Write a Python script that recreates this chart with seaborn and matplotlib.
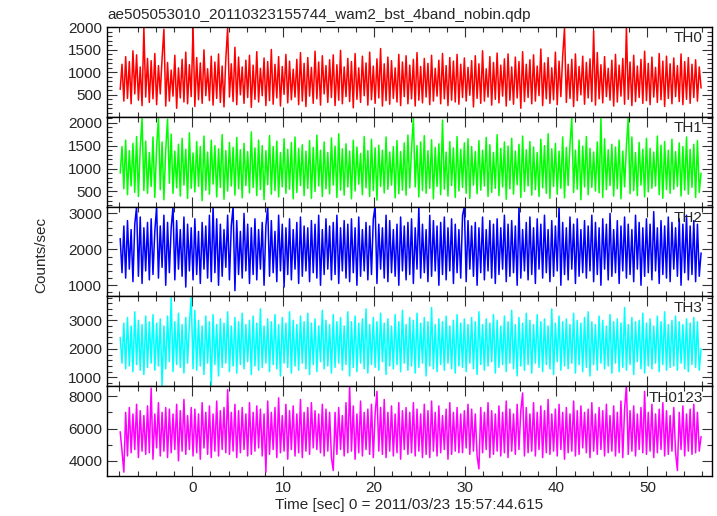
"""Кривые блеска WAM (4 полосы + сумма)"""

import numpy as np
import matplotlib
matplotlib.use("Agg")
import matplotlib.pyplot as plt
import seaborn as sns
from matplotlib.ticker import MultipleLocator

title = "ae505053010_20110323155744_wam2_bst_4band_nobin.qdp"
band_names = ["TH0", "TH1", "TH2", "TH3", "TH0123"]
band_colors = ["#ff0000", "#00ff00", "#0000ff", "#00ffff", "#ff00ff"]

# начало и конец ряда, сек
t_start, t_stop = -7.9, 55.9

th0 = [
    620, 1180, 360, 1350, 420, 1240, 300, 1480, 520, 1390, 380, 1120, 260, 2000, 450, 1310,
    330, 1260, 410, 1420, 280, 1150, 520, 1310, 1960, 250, 1220, 360, 1050, 470, 1380, 200,
    1100, 430, 1290, 340, 1450, 300, 1170, 460, 2000, 240, 1330, 390, 1210, 310, 1500, 480,
    1080, 370, 1360, 270, 1230, 420, 1410, 330, 1140, 230, 1300, 1990, 450, 1190, 350, 1560,
    280, 1340, 500, 1120, 310, 1270, 440, 1380, 220, 1160, 400, 1460, 340, 1090, 480, 1320,
    260, 1240, 370, 1510, 290, 1180, 430, 1350, 250, 1130, 510, 1400, 320, 1250, 390, 1070,
    450, 1290, 280, 1440, 360, 1200, 240, 1330, 470, 1110, 310, 1470, 410, 1230, 270, 1370,
    520, 1150, 330, 1280, 440, 1390, 260, 1170, 380, 1490, 300, 1120, 460, 1310, 350, 1240,
    210, 1420, 400, 1100, 330, 1360, 480, 1210, 270, 1450, 390, 1140, 310, 1300, 430, 1530,
    250, 1190, 370, 1340, 290, 1260, 420, 1100, 340, 1400, 260, 1230, 460, 1370, 300, 1160,
    410, 1290, 250, 1440, 380, 1130, 320, 1310, 450, 1200, 280, 1380, 360, 1090, 470, 1270,
    300, 1420, 410, 1150, 260, 1330, 380, 1250, 340, 1400, 290, 1180, 440, 1320, 360, 1110,
    490, 1260, 230, 1370, 420, 1190, 310, 1480, 360, 1080, 450, 1350, 270, 1220, 400, 1430,
    320, 1160, 470, 1300, 250, 1410, 380, 1120, 290, 1340, 430, 1240, 200, 1460, 350, 1180,
    440, 1280, 300, 1390, 360, 1140, 480, 1520, 260, 1210, 410, 1330, 310, 1100, 390, 1450,
    280, 1250, 460, 1370, 1980, 330, 1180, 420, 1290, 240, 1410, 370, 1130, 500, 1360, 290,
    1220, 430, 1300, 350, 1920, 270, 1440, 410, 1170, 320, 1350, 460, 1090, 380, 1270, 250,
    1400, 340, 1160, 470, 1310, 290, 2000, 400, 1230, 260, 1380, 350, 1140, 440, 1290, 310,
    1470, 370, 1200, 280, 1340, 450, 1110, 330, 1420, 390, 1250, 240, 1360, 420, 1190, 300,
    1320, 460, 1150, 350, 1410, 280, 1240, 400, 1330, 310, 1180, 440, 1280, 360, 1120, 650,
]
th1 = [
    900, 1480, 560, 1620, 430, 1390, 620, 1550, 480, 1700, 390, 1440, 2100, 520, 1600, 460,
    1350, 610, 1690, 370, 1470, 2100, 540, 1580, 320, 1410, 2080, 680, 1750, 460, 1380, 580,
    1530, 400, 1660, 640, 1420, 350, 1780, 570, 1340, 490, 1590, 610, 1480, 300, 1710, 530,
    1360, 440, 1620, 660, 1500, 380, 1430, 590, 1740, 330, 1390, 510, 1570, 620, 1460, 420,
    1680, 560, 1410, 360, 1550, 630, 1370, 470, 1800, 590, 1450, 410, 1620, 540, 1500, 320,
    1390, 650, 1720, 440, 1480, 520, 1600, 380, 1350, 600, 1650, 460, 1420, 550, 1570, 340,
    1690, 480, 1440, 630, 1520, 410, 1380, 570, 1610, 350, 1460, 500, 1730, 620, 1400, 390,
    1580, 560, 1350, 450, 1670, 640, 1490, 370, 1760, 530, 1430, 420, 1540, 600, 1380, 340,
    1620, 510, 1470, 660, 1330, 430, 1700, 580, 1390, 390, 1640, 520, 1450, 310, 1510, 610,
    1400, 470, 1690, 550, 1360, 640, 1480, 360, 1610, 450, 1370, 530, 1560, 420, 1730, 580,
    1440, 2100, 600, 1500, 380, 1580, 520, 1720, 460, 1390, 570, 1630, 340, 1460, 610, 1540,
    430, 2060, 550, 1360, 400, 1590, 630, 1450, 370, 1700, 510, 1420, 590, 1560, 460, 1650,
    350, 1480, 640, 1370, 450, 1610, 530, 1400, 620, 1680, 390, 1520, 480, 1350, 570, 1740,
    410, 1440, 600, 1580, 330, 1490, 560, 1660, 440, 1380, 650, 1530, 370, 1710, 500, 1410,
    620, 1590, 420, 1470, 540, 1350, 390, 1640, 580, 1500, 460, 1760, 350, 1430, 610, 1550,
    440, 1380, 570, 1690, 360, 1460, 630, 1520, 2100, 480, 1400, 550, 1620, 320, 1490, 600,
    1700, 430, 1440, 590, 1360, 510, 1580, 470, 2090, 370, 1650, 540, 1410, 630, 1530, 400,
    1470, 560, 1620, 340, 1380, 600, 1500, 2100, 450, 1690, 520, 1350, 410, 1570, 640, 1420,
    380, 1660, 490, 1440, 570, 1360, 620, 1710, 430, 1510, 350, 1590, 540, 1400, 460, 1640,
    550, 1370, 610, 1560, 400, 1480, 530, 1690, 440, 1420, 590, 1530, 370, 1610, 480, 900,
]
th2 = [
    2300, 1350, 2650, 1200, 2800, 1450, 2550, 1100, 2700, 3190, 1250, 2900, 1050, 2600, 1400, 2750,
    1150, 2850, 1300, 2500, 3190, 1200, 2650, 1500, 2950, 1000, 2750, 1350, 2600, 3190, 1150, 2800,
    1450, 2550, 1250, 2900, 950, 2700, 1400, 2600, 1150, 2850, 1300, 2500, 1050, 2750, 1450, 2650,
    1200, 2950, 1100, 3190, 1350, 2850, 1000, 2700, 1250, 2550, 1500, 2950, 1150, 2650, 3190, 850,
    2800, 1300, 2500, 1200, 3000, 1400, 2700, 1050, 2600, 1300, 2850, 1150, 2550, 1450, 2750, 1000,
    2650, 3190, 1250, 2800, 1350, 2500, 1100, 2950, 1400, 2700, 950, 2600, 1300, 2850, 1150, 2550,
    1450, 2750, 1050, 2900, 1250, 2650, 1400, 2600, 1100, 2800, 1350, 2700, 1200, 2950, 1000, 2550,
    1300, 2850, 1450, 2650, 1150, 2750, 1300, 2950, 1050, 2600, 1400, 2800, 1200, 2700, 1100, 2850,
    1350, 2600, 1000, 2900, 1250, 2550, 1400, 2750, 1150, 2650, 1300, 2850, 3190, 1050, 2700, 1450,
    2600, 1200, 2950, 1100, 2800, 1350, 2550, 1250, 2700, 1000, 2900, 1400, 2650, 1150, 2750, 1300,
    2850, 1050, 2600, 1450, 3190, 1200, 2700, 1350, 2550, 1100, 2950, 1250, 2800, 1400, 2650, 1000,
    2750, 1300, 2900, 1150, 2600, 1400, 2850, 1050, 2700, 1350, 2550, 1200, 2950, 3190, 1100, 2800,
    1450, 2650, 1250, 2750, 1000, 2600, 1350, 2900, 1150, 2550, 1400, 2800, 1200, 2700, 1050, 2850,
    1300, 2600, 1450, 2950, 1100, 2700, 1250, 2800, 1350, 2650, 1000, 3190, 1200, 2550, 1400, 2750,
    1150, 2900, 1300, 2600, 1050, 2850, 1450, 2700, 1200, 2950, 1350, 2550, 1100, 2800, 1250, 2650,
    1400, 3190, 1000, 2750, 1300, 2600, 1150, 2900, 1450, 2700, 1050, 2850, 1250, 2550, 1350, 2800,
    1200, 2650, 1400, 2950, 1100, 2750, 1300, 2600, 1000, 2850, 1450, 2700, 1150, 3000, 1250, 2550,
    1350, 2800, 1050, 2650, 1400, 2900, 1200, 2700, 1300, 2550, 1100, 2950, 1450, 2750, 1000, 2600,
    1250, 2850, 1350, 2700, 1150, 3050, 1400, 2600, 1050, 2800, 1300, 2650, 1200, 2900, 1100, 2750,
    1450, 2600, 1250, 2850, 1000, 2700, 1350, 2950, 1150, 2650, 1300, 2800, 1100, 2700, 1250, 1900,
]
th3 = [
    2400, 1500, 2900, 1300, 3100, 1400, 2800, 1200, 3300, 1450, 3000, 1250, 2850, 1100, 3150, 1350,
    2950, 1500, 3200, 1250, 2900, 1400, 3050, 700, 2800, 1300, 3150, 1550, 3800, 1200, 2950, 1450,
    3250, 1350, 2850, 1150, 3100, 1500, 2900, 3800, 1300, 3350, 1250, 3000, 1400, 2800, 1100, 3150,
    1500, 2950, 700, 3200, 1450, 2850, 1050, 3050, 1350, 2900, 1500, 3300, 1200, 2800, 1400, 3100,
    1150, 2950, 1450, 3250, 1300, 2850, 1550, 3000, 1100, 3150, 1400, 2900, 1250, 3400, 1350, 2800,
    1500, 3050, 1200, 2950, 1450, 3200, 1300, 2850, 1050, 3100, 1500, 2900, 1350, 3300, 1150, 3000,
    1400, 2850, 1250, 3150, 1500, 2950, 1300, 3250, 1100, 2900, 1450, 3050, 1200, 2800, 1550, 3350,
    1300, 3000, 1400, 2850, 1150, 3200, 1350, 2950, 1500, 3100, 1250, 2800, 1450, 3300, 1050, 2950,
    1350, 3150, 1200, 2900, 1500, 3050, 1300, 3400, 1150, 2850, 1450, 3100, 1350, 2950, 1250, 3250,
    1550, 2900, 1100, 3050, 1400, 2800, 1300, 3200, 1450, 2950, 1200, 3350, 1500, 2850, 1250, 3100,
    1400, 3000, 1150, 3250, 1350, 2900, 1500, 3100, 1050, 2950, 1400, 3450, 1300, 2850, 1200, 3050,
    1450, 2950, 1250, 3150, 1500, 2800, 1300, 3000, 1150, 3200, 1400, 2900, 1350, 3050, 1200, 2850,
    1500, 3100, 1300, 2950, 1100, 3300, 1450, 2850, 1250, 3050, 1400, 2900, 1550, 3200, 1150, 3000,
    1350, 2800, 1450, 3150, 1200, 2950, 1500, 3350, 1300, 2850, 1050, 3100, 1400, 2900, 1250, 3250,
    1450, 3000, 1150, 2850, 1500, 3200, 1350, 2950, 1200, 3050, 1450, 2800, 1300, 3400, 1100, 2900,
    1550, 3150, 1250, 2950, 1400, 3050, 1300, 2850, 1500, 3250, 1150, 3000, 1450, 2900, 1200, 3100,
    1350, 3300, 1050, 2950, 1450, 2850, 1250, 3150, 1500, 3000, 1300, 2800, 1400, 3200, 1150, 2950,
    1500, 3050, 1200, 2900, 1350, 3450, 1250, 2850, 1450, 3100, 1100, 2950, 1550, 3000, 1300, 3250,
    1150, 2900, 1400, 3050, 1300, 2800, 1500, 3150, 1200, 2950, 1450, 3300, 1250, 2850, 1350, 3000,
    1400, 3150, 1250, 2950, 1500, 2850, 1300, 3050, 1200, 2900, 1450, 3100, 1350, 2950, 1250, 2000,
]
th0123 = [
    5800, 4600, 3300, 7000, 4300, 7300, 4500, 6900, 4700, 7500, 4200, 7100, 4600, 6800, 4400, 7400,
    4500, 8500, 4100, 6900, 4800, 7600, 4300, 7000, 4600, 7300, 4200, 7200, 4500, 6900, 4700, 7500,
    4000, 7100, 4600, 7800, 4400, 6800, 4700, 7300, 4300, 7200, 4500, 6900, 4100, 7600, 4800, 7000,
    4400, 7400, 4200, 6900, 4600, 7700, 4300, 7100, 4700, 7300, 4500, 8400, 4400, 7000, 4600, 7500,
    4200, 7100, 4500, 7300, 4700, 6900, 4300, 7600, 4400, 7000, 4600, 7400, 4800, 7200, 4300, 6900,
    3300, 7700, 4400, 7000, 4700, 7300, 4200, 7900, 4500, 6800, 4600, 7500, 4100, 7100, 4700, 7400,
    4300, 6900, 4500, 7800, 4200, 7000, 4600, 7300, 4400, 7600, 4800, 7100, 4700, 6900, 4500, 7500,
    4300, 7200, 4600, 7000, 4200, 3400, 7000, 4400, 7300, 4700, 6800, 4300, 7600, 4500, 8600, 4600,
    7400, 4100, 6900, 4500, 7700, 4300, 7000, 4700, 7200, 4400, 7500, 4200, 6900, 8300, 4600, 7300,
    4400, 7800, 4200, 7000, 4600, 7400, 4300, 6900, 4500, 7600, 4100, 7100, 4700, 7300, 4400, 7000,
    4500, 7600, 4300, 7200, 4600, 6900, 4200, 7500, 4400, 7100, 4200, 7700, 4600, 7000, 4300, 7400,
    4500, 6800, 4700, 7200, 4100, 7600, 4400, 7000, 4600, 7300, 4500, 6900, 4500, 7100, 4800, 7500,
    4400, 7200, 4600, 6900, 4300, 3500, 7300, 4500, 7000, 4700, 7600, 4200, 7100, 4400, 6900, 4600,
    7400, 4300, 7000, 4500, 7700, 4200, 7200, 4600, 6900, 4400, 7500, 4700, 7100, 8200, 4300, 7300,
    4500, 6900, 4600, 7600, 4300, 7000, 4700, 7400, 4200, 7100, 4500, 7800, 4400, 6900, 4600, 7200,
    4300, 7500, 4700, 7000, 4100, 7300, 4500, 6900, 4600, 7700, 4300, 7100, 4400, 7400, 4800, 7000,
    4500, 7200, 4200, 7600, 4600, 6900, 4400, 7300, 4700, 7100, 4300, 7500, 4500, 6800, 4600, 7400,
    4300, 7000, 4500, 7700, 4200, 7200, 8700, 4400, 7100, 4600, 7400, 4300, 6900, 4700, 7300, 4500,
    8300, 4400, 7000, 4600, 7500, 4200, 6900, 4500, 7200, 4700, 7600, 4300, 7100, 4400, 6800, 4600,
    7300, 4500, 3400, 7000, 4700, 7400, 4300, 6900, 4600, 7200, 4400, 7500, 4500, 7000, 4600, 5500,
]

# пределы и шаги делений по оси Y для каждой панели
y_limits = [(10, 2010), (170, 2130), (690, 3190), (690, 3840), (3060, 8620)]
y_major = [500, 500, 1000, 1000, 2000]
y_minor = [100, 100, 200, 200, 1000]

sns.set_style("ticks")
plt.rcParams["font.family"] = ["Liberation Sans", "DejaVu Sans"]
plt.rcParams["xtick.direction"] = "in"
plt.rcParams["ytick.direction"] = "in"

W, H = 717, 516
fig, axes = plt.subplots(5, 1, figsize=(W / 100, H / 100), dpi=100, sharex=True)
fig.subplots_adjust(left=107 / W, right=712 / W, top=1 - 27 / H, bottom=1 - 476 / H, hspace=0)

series = [th0, th1, th2, th3, th0123]
for i, ax in enumerate(axes):
    vals = np.array(series[i])
    t = np.linspace(t_start, t_stop, len(vals))
    sns.lineplot(x=t, y=vals, ax=ax, color=band_colors[i], linewidth=1.1, estimator=None)
    ax.set_ylim(*y_limits[i])
    ax.set_xlim(-9.35, 57.1)
    ax.yaxis.set_major_locator(MultipleLocator(y_major[i]))
    ax.yaxis.set_minor_locator(MultipleLocator(y_minor[i]))
    ax.xaxis.set_major_locator(MultipleLocator(10))
    ax.xaxis.set_minor_locator(MultipleLocator(2))
    ax.tick_params(which="both", top=True, right=True, direction="in", color="#333333", labelsize=11)
    ax.tick_params(which="major", length=7, width=0.8)
    ax.tick_params(which="minor", length=3.5, width=0.8)
    for sp in ax.spines.values():
        sp.set_visible(True)
        sp.set_color("black")
        sp.set_linewidth(1)
    ax.set_ylabel("")
    ax.text(0.985, 0.95, band_names[i], transform=ax.transAxes, ha="right", va="top", fontsize=11)

axes[-1].set_xlabel("Time [sec] 0 = 2011/03/23 15:57:44.615", fontsize=11, labelpad=2)
fig.text(107 / W, 1 - 15 / H, title, ha="left", va="center", fontsize=11)
fig.text(41 / W, 1 - 255 / H, "Counts/sec", rotation=90, ha="center", va="center", fontsize=11)

plt.savefig("out.png", dpi=100)
plt.close()
